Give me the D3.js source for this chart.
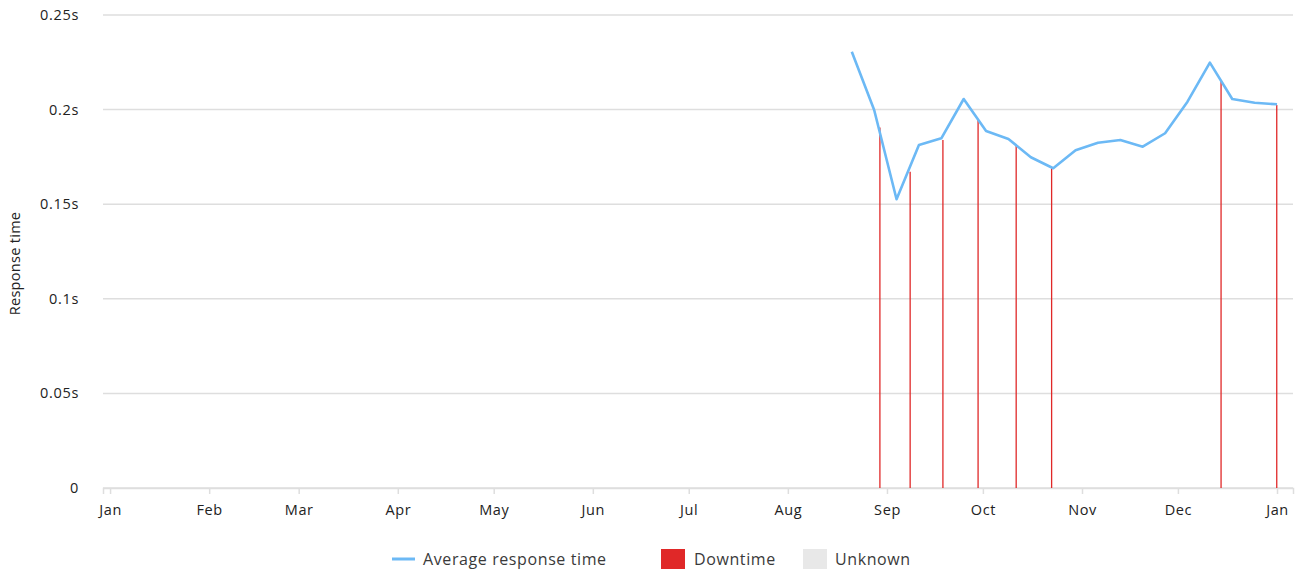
<!DOCTYPE html>
<html>
<head>
<meta charset="utf-8">
<script src="https://cdn.jsdelivr.net/npm/d3@7"></script>
<style>
  body { margin: 0; background: #fff; }
  svg { display: block; font-family: "Open Sans", Lato, sans-serif; }
</style>
</head>
<body>
<svg id="chart" width="1304" height="573"></svg>
<script>
// weekly average response time (seconds)
const weekDates = ["2023-08-21", "2023-08-28", "2023-09-04", "2023-09-11", "2023-09-18",
  "2023-09-25", "2023-10-02", "2023-10-09", "2023-10-16", "2023-10-23", "2023-10-30",
  "2023-11-06", "2023-11-13", "2023-11-20", "2023-11-27", "2023-12-04", "2023-12-11",
  "2023-12-18", "2023-12-25", "2024-01-01"]
const avgResponse = [0.2306, 0.1998, 0.1526, 0.1813, 0.1848, 0.2056, 0.1887, 0.1845, 0.1748,
  0.1690, 0.1785, 0.1825, 0.1839, 0.1804, 0.1875, 0.2042, 0.2248, 0.2056, 0.2036, 0.2028]

// downtime events, height = response time at that moment
const downtimeDates = ["2023-08-29T19:00", "2023-09-08T06:00", "2023-09-18T12:00", "2023-09-29T12:00",
  "2023-10-11T10:00", "2023-10-22T12:00", "2023-12-14T12:00", "2023-12-31T22:00"]
const downtimeValues = [0.1905, 0.1672, 0.1839, 0.1949, 0.1807, 0.1690, 0.2156, 0.2024]

const yTicks = [0, 0.05, 0.1, 0.15, 0.2, 0.25]
const legendItems = ["Average response time", "Downtime", "Unknown"]

const lineColor = "#6cb9f5"
const downColor = "#e02828"
const unknownColor = "#e8e8e8"
const gridColor = "#dedede"
const textColor = "#222"

const svg = d3.select("#chart")
const plotL = 103, plotR = 1293, plotT = 15, plotB = 488

const x = d3.scaleTime()
  .domain([new Date(2022, 11, 29, 19), new Date(2024, 0, 6)])
  .range([plotL, plotR])
const y = d3.scaleLinear().domain([0, 0.25]).range([plotB, plotT])

const parse = s => new Date(s)
const series = weekDates.map((d, i) => ({ date: parse(d + "T00:00"), v: avgResponse[i] }))
const downs = downtimeDates.map((d, i) => ({ date: parse(d), v: downtimeValues[i] }))

// grid
svg.append("g")
  .selectAll("line")
  .data(yTicks)
  .join("line")
  .attr("x1", plotL).attr("x2", plotR)
  .attr("y1", d => y(d)).attr("y2", d => y(d))
  .attr("stroke", gridColor).attr("stroke-width", 1.5)

// y labels
svg.append("g")
  .selectAll("text")
  .data(yTicks)
  .join("text")
  .attr("x", 79).attr("y", d => y(d))
  .attr("dy", "0.35em")
  .attr("text-anchor", "end")
  .attr("font-size", 14.5)
  .attr("letter-spacing", 0.7)
  .attr("fill", textColor)
  .text(d => d === 0 ? "0" : d + "s")

svg.append("text")
  .attr("transform", "translate(20," + ((plotT + plotB) / 2 + 12) + ") rotate(-90)")
  .attr("text-anchor", "middle")
  .attr("font-size", 14.5)
  .attr("letter-spacing", 0.3)
  .attr("fill", textColor)
  .text("Response time")

// x axis
const xAxis = d3.axisBottom(x)
  .ticks(d3.timeMonth.every(1))
  .tickFormat(d3.timeFormat("%b"))
  .tickSize(6)
  .tickPadding(11)
const gx = svg.append("g").attr("transform", "translate(0," + plotB + ")").call(xAxis)
gx.select(".domain").attr("stroke", gridColor).attr("stroke-width", 1.5)
gx.selectAll(".tick line").attr("stroke", gridColor).attr("stroke-width", 1.5)
gx.selectAll(".tick text")
  .attr("font-size", 14.5)
  .attr("letter-spacing", 0.6)
  .attr("font-family", "'Open Sans', Lato, sans-serif")
  .attr("fill", textColor)

// downtime bars
svg.append("g")
  .selectAll("line")
  .data(downs)
  .join("line")
  .attr("x1", d => x(d.date)).attr("x2", d => x(d.date))
  .attr("y1", plotB).attr("y2", d => y(d.v))
  .attr("stroke", downColor).attr("stroke-width", 1.3)

// average line
svg.append("path")
  .datum(series)
  .attr("fill", "none")
  .attr("stroke", lineColor)
  .attr("stroke-width", 2.6)
  .attr("stroke-linejoin", "round")
  .attr("d", d3.line().x(d => x(d.date)).y(d => y(d.v)))

// legend
const lg = svg.append("g").attr("font-size", 16).attr("letter-spacing", 0.6).attr("fill", "#3a3a3a")
lg.append("line").attr("x1", 392).attr("x2", 415).attr("y1", 559).attr("y2", 559)
  .attr("stroke", lineColor).attr("stroke-width", 3)
lg.append("text").attr("x", 423).attr("y", 559).attr("dy", "0.35em").text(legendItems[0])
lg.append("rect").attr("x", 661).attr("y", 549).attr("width", 24).attr("height", 20).attr("fill", downColor)
lg.append("text").attr("x", 694).attr("y", 559).attr("dy", "0.35em").text(legendItems[1])
lg.append("rect").attr("x", 803).attr("y", 549).attr("width", 24).attr("height", 20).attr("fill", unknownColor)
lg.append("text").attr("x", 835).attr("y", 559).attr("dy", "0.35em").text(legendItems[2])
</script>
</body>
</html>
